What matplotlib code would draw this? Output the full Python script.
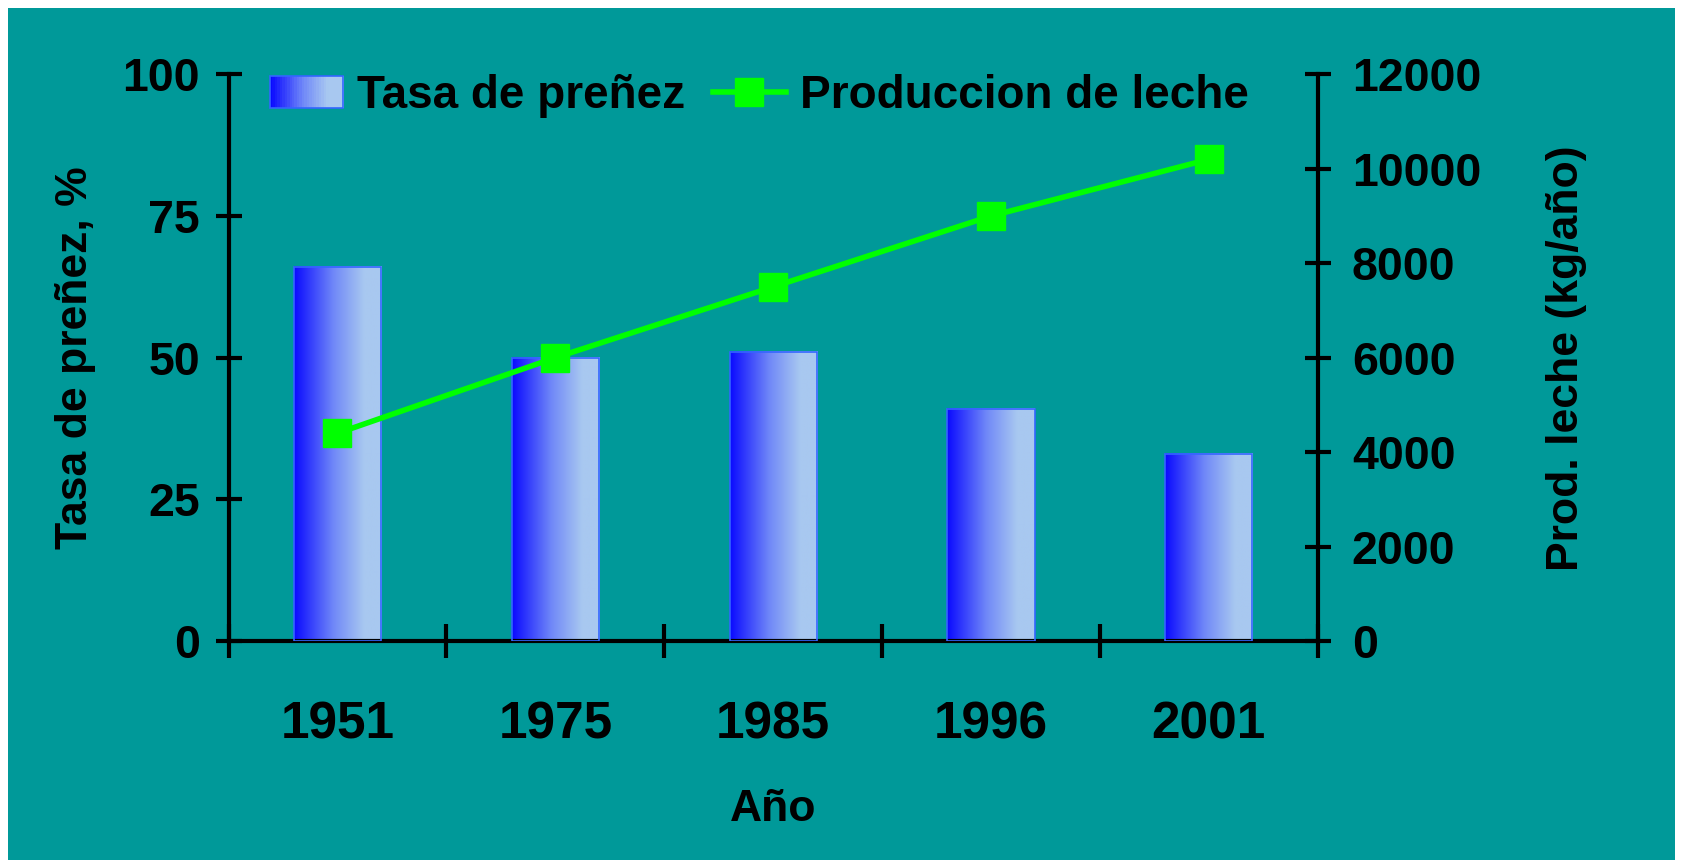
import numpy as np
import matplotlib.pyplot as plt
from matplotlib.colors import LinearSegmentedColormap, to_hex
from matplotlib.patches import Rectangle
from matplotlib.lines import Line2D
from matplotlib.legend_handler import HandlerBase

# datos
anios = ['1951', '1975', '1985', '1996', '2001']
tasa_prenez = [66, 50, 51, 41, 33]          # %
prod_leche = [4400, 6000, 7500, 9000, 10200]  # kg/año

plt.rcParams['font.family'] = ['Liberation Sans', 'DejaVu Sans']
plt.rcParams['font.weight'] = 'bold'

teal = '#009999'
verde = '#00FF00'
cmap = LinearSegmentedColormap.from_list(
    'barra', [(0, '#0A0AFF'), (0.45, '#7088F8'), (0.8, '#A8C8F0'), (1, '#A8C8F0')])

fig = plt.figure(figsize=(16.83, 8.64), dpi=100, facecolor='white')
fig.patches.append(Rectangle((8 / 1683, 4 / 864), 1667 / 1683, 852 / 864,
                             transform=fig.transFigure, facecolor=teal,
                             edgecolor='none', zorder=-10))

ax = fig.add_axes([0.1358, 0.258, 0.6472, 0.656])
ax.set_facecolor('none')
x = np.arange(len(anios))
ancho = 0.4

barras = ax.bar(x, tasa_prenez, width=ancho, color='none', edgecolor='#3366FF',
                linewidth=1.2, zorder=3)
grad = np.linspace(0, 1, 256).reshape(1, -1)
for b in barras:
    x0, h, w = b.get_x(), b.get_height(), b.get_width()
    ax.imshow(grad, cmap=cmap, aspect='auto', extent=[x0, x0 + w, 0, h],
              zorder=2, interpolation='bilinear')

ax.set_xlim(-0.5, len(anios) - 0.5)
ax.set_ylim(0, 100)
ax.set_yticks([0, 25, 50, 75, 100])

# ticks mayores en los limites de categoria, etiquetas en el centro
ax.set_xticks(np.arange(-0.5, len(anios)), labels=[''] * (len(anios) + 1))
ax.set_xticks(x, labels=anios, minor=True)
ax.tick_params(axis='x', which='major', direction='inout', length=24, width=3)
ax.tick_params(axis='x', which='minor', length=0, pad=43, labelsize=37)
ax.tick_params(axis='y', direction='inout', length=19, width=3, labelsize=33.5, pad=11)

for lado in ['top', 'right']:
    ax.spines[lado].set_visible(False)
for lado in ['left', 'bottom']:
    ax.spines[lado].set_linewidth(3)

ax.set_ylabel('Tasa de preñez, %', fontsize=32, fontweight='bold', labelpad=19)
ax.set_xlabel('Año', fontsize=32, fontweight='bold', labelpad=28)

ax2 = ax.twinx()
ax2.plot(x, prod_leche, color=verde, linewidth=4, marker='s', markersize=20,
         zorder=5)
ax2.set_ylim(0, 12000)
ax2.set_yticks(np.arange(0, 12001, 2000))
ax2.tick_params(axis='y', direction='inout', length=19, width=3, labelsize=33.5, pad=15)
for lado in ['top', 'left', 'bottom']:
    ax2.spines[lado].set_visible(False)
ax2.spines['right'].set_linewidth(3)
ax2.set_ylabel('Prod. leche (kg/año)', fontsize=32, fontweight='bold', labelpad=47)


class HandlerGradiente(HandlerBase):
    def create_artists(self, legend, orig_handle, xd, yd, width, height, fontsize, trans):
        n = 30
        artistas = []
        for i in range(n):
            c = to_hex(cmap(i / (n - 1)))
            artistas.append(Rectangle((xd + width * i / n, yd), width / n + 0.5, height,
                                      facecolor=c, edgecolor='none', transform=trans))
        artistas.append(Rectangle((xd, yd), width, height, facecolor='none',
                                  edgecolor='#3366FF', linewidth=1.2, transform=trans))
        return artistas


h_barra = Rectangle((0, 0), 1, 1)
h_linea = Line2D([], [], color=verde, linewidth=4, marker='s', markersize=20)
ax2.legend([h_barra, h_linea], ['Tasa de preñez', 'Produccion de leche'],
           handler_map={Rectangle: HandlerGradiente()},
           loc='center left', bbox_to_anchor=(270 / 1683, 1 - 96 / 864),
           bbox_transform=fig.transFigure, ncol=2, frameon=False,
           prop={'size': 33, 'weight': 'bold'}, handlelength=1.6,
           handletextpad=0.3, columnspacing=0.6, borderaxespad=0, borderpad=0)

fig.savefig('out.png', dpi=100, facecolor='white')
